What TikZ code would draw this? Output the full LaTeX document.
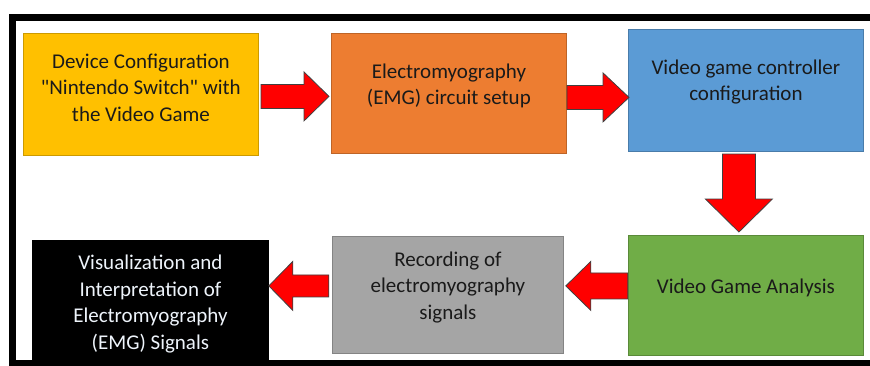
\documentclass[tikz,border=0pt]{standalone}
\usepackage{fontspec}
\setmainfont{Carlito}
\newfontfamily\plainq{Carlito}[Ligatures=TeXOff]
\usetikzlibrary{calc}
\definecolor{cyellow}{HTML}{FFC000}
\definecolor{corange}{HTML}{ED7D31}
\definecolor{cblue}{HTML}{5B9BD5}
\definecolor{cgreen}{HTML}{70AD47}
\definecolor{cgray}{HTML}{A5A5A5}
\definecolor{ctext}{HTML}{1A1A1A}
\definecolor{cwtext}{HTML}{EEF4FB}
\newcommand\rightarr[5]{\draw[arrowshape, shift={(#1)}] (0,0) -- (-#3,-#5) -- (-#3,-#4) -- (-#2,-#4) -- (-#2,#4) -- (-#3,#4) -- (-#3,#5) -- cycle;}
\newcommand\leftarr[5]{\draw[arrowshape, shift={(#1)}] (0,0) -- (#3,-#5) -- (#3,-#4) -- (#2,-#4) -- (#2,#4) -- (#3,#4) -- (#3,#5) -- cycle;}
\newcommand\downarr[5]{\draw[arrowshape, shift={(#1)}] (0,0) -- (-#5,-#3) -- (-#4,-#3) -- (-#4,-#2) -- (#4,-#2) -- (#4,-#3) -- (#5,-#3) -- cycle;}
\newcommand\sq{{\plainq"}}
\begin{document}
\begin{tikzpicture}[x=1pt,y=-1pt,
  box/.style={draw=#1!80!black, fill=#1, line width=0.8pt, inner sep=0pt, anchor=north west},
  txt/.style={text=ctext, align=center, inner sep=0pt, font=\fontsize{21}{26.5}\selectfont},
  arrowshape/.style={fill=red, draw=black!75, line width=0.8pt, line join=miter}]
\useasboundingbox (0,0) rectangle (870,365);
\fill[white] (0,0) rectangle (870,365);
\begin{scope}
\clip (0,0) rectangle (870,365);
\draw[line width=7pt] (880,363) -- (12.8,363) -- (12.8,17) -- (880,17);
\end{scope}
% boxes
\node[box=cyellow, minimum width=235pt, minimum height=122pt] (b1) at (23,33) {};
\node[box=corange, minimum width=235pt, minimum height=120pt] (b2) at (331,33) {};
\node[box=cblue, minimum width=235pt, minimum height=122pt] (b3) at (628,29) {};
\node[box=cgreen, minimum width=235pt, minimum height=120pt] (b4) at (628,235) {};
\node[box=cgray, minimum width=231pt, minimum height=117pt] (b5) at (332,236) {};
\node[box=black, draw=black, minimum width=236pt, minimum height=122pt] (b6) at (32,240) {};
% texts
\node[txt] (t1) at ($(b1.center)+(0,-7)$) {Device Configuration\\\sq Nintendo Switch\sq{} with\\the Video Game};
\node[txt] (t2) at ($(b2.center)+(0,-7.5)$) {Electromyography\\(EMG) circuit setup};
\node[txt] (t3) at ($(b3.center)+(0,-8.5)$) {Video game controller\\configuration};
\node[txt] (t4) at ($(b4.center)+(0,-8)$) {Video Game Analysis};
\node[txt] (t5) at ($(b5.center)+(0,-7.5)$) {Recording of\\electromyography\\signals};
\node[txt, text=cwtext] (t6) at ($(b6.center)+(0,2.5)$) {Visualization and\\Interpretation of\\Electromyography\\(EMG) Signals};
% block arrows
\coordinate (a1) at ($(b2.west)+(-2,3)$);
\coordinate (a2) at ($(b3.west)+(1,7)$);
\coordinate (a3) at ($(b4.north)+(-7,-3)$);
\coordinate (a4) at ($(b5.east)+(2,-9)$);
\coordinate (a5) at ($(b6.east)+(0,-15.5)$);
\rightarr{a1}{68}{25}{12}{24.5}
\rightarr{a2}{62}{26}{12}{24.5}
\downarr{a3}{78}{33}{16.5}{33.5}
\leftarr{a4}{62}{25}{13}{24.5}
\leftarr{a5}{60}{24}{11}{24.5}
\end{tikzpicture}
\end{document}
